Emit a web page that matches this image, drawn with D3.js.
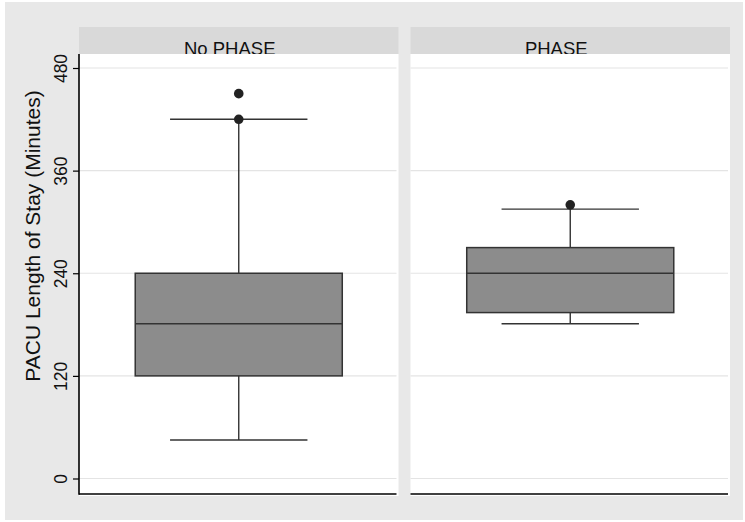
<!DOCTYPE html>
<html>
<head>
<meta charset="utf-8">
<script src="https://cdn.jsdelivr.net/npm/d3@7"></script>
<style>
  body { margin: 0; background: #fff; }
  text { font-family: "Liberation Sans", Arial, sans-serif; fill: #111; }
</style>
</head>
<body>
<svg id="chart" width="745" height="522"></svg>
<script>
// values (minutes)
var groups = ["No PHASE", "PHASE"];
var whiskerLow = [45, 181];
var q1 = [120, 194];
var median = [181, 240];
var q3 = [240, 270];
var whiskerHigh = [420, 315];
var outliers = [[420, 450], [320]];
var yTicks = [0, 120, 240, 360, 480];

var width = 745, height = 522;
var svg = d3.select("#chart");

var plotTop = 54, plotBottom = 494;

var y = d3.scaleLinear().domain([0, 480]).range([478.5, 68]);

var panel = d3.scaleBand()
    .domain(groups)
    .range([79, 730])
    .paddingInner(0.0362)
    .paddingOuter(0);

// position inside a panel, 0..1
var inner = d3.scaleLinear().domain([0, 1]).range([0, panel.bandwidth()]);
var boxW = 0.648, capW = 0.43;

// graph region
svg.append("rect")
    .attr("x", 5).attr("y", 2)
    .attr("width", width - 7).attr("height", height - 4)
    .attr("fill", "#e8e8e8");

var panels = svg.selectAll("g.panel")
    .data(groups)
    .enter().append("g")
    .attr("class", "panel")
    .attr("transform", function (d) { return "translate(" + panel(d) + ",0)"; });

// header strip
panels.append("rect")
    .attr("x", 0).attr("y", 27)
    .attr("width", panel.bandwidth()).attr("height", plotTop - 27)
    .attr("fill", "#d9d9d9");

panels.append("text")
    .attr("x", function (d, i) { return inner(0.5) + (i === 0 ? -9 : -14); })
    .attr("y", 55)
    .attr("text-anchor", "middle")
    .style("font-size", "18.5px")
    .text(function (d) { return d; });

// plot region
panels.append("rect")
    .attr("x", 0).attr("y", plotTop)
    .attr("width", panel.bandwidth()).attr("height", 496 - plotTop)
    .attr("fill", "#fff");

// gridlines
panels.selectAll("line.grid")
    .data(yTicks)
    .enter().append("line")
    .attr("x1", 0).attr("x2", panel.bandwidth() - 2)
    .attr("y1", function (d) { return y(d); })
    .attr("y2", function (d) { return y(d); })
    .attr("stroke", "#e4e4e4")
    .attr("stroke-width", 1.2);

// whiskers
panels.append("line")
    .attr("x1", inner(0.5)).attr("x2", inner(0.5))
    .attr("y1", function (d, i) { return y(whiskerLow[i]); })
    .attr("y2", function (d, i) { return y(whiskerHigh[i]); })
    .attr("stroke", "#333").attr("stroke-width", 1.4);

[whiskerLow, whiskerHigh].forEach(function (arr) {
  panels.append("line")
      .attr("x1", inner(0.5 - capW / 2)).attr("x2", inner(0.5 + capW / 2))
      .attr("y1", function (d, i) { return y(arr[i]); })
      .attr("y2", function (d, i) { return y(arr[i]); })
      .attr("stroke", "#333").attr("stroke-width", 1.4);
});

// box
panels.append("rect")
    .attr("x", inner(0.5 - boxW / 2))
    .attr("width", inner(boxW))
    .attr("y", function (d, i) { return y(q3[i]); })
    .attr("height", function (d, i) { return y(q1[i]) - y(q3[i]); })
    .attr("fill", "#8c8c8c")
    .attr("stroke", "#333").attr("stroke-width", 1.5);

panels.append("line")
    .attr("x1", inner(0.5 - boxW / 2)).attr("x2", inner(0.5 + boxW / 2))
    .attr("y1", function (d, i) { return y(median[i]); })
    .attr("y2", function (d, i) { return y(median[i]); })
    .attr("stroke", "#333").attr("stroke-width", 1.5);

// outside values
panels.each(function (d, i) {
  d3.select(this).selectAll("circle")
      .data(outliers[i])
      .enter().append("circle")
      .attr("cx", inner(0.5))
      .attr("cy", function (v) { return y(v); })
      .attr("r", 4.8)
      .attr("fill", "#222");
});

// x axis line per panel
panels.append("line")
    .attr("x1", 0).attr("x2", panel.bandwidth() - 2)
    .attr("y1", plotBottom).attr("y2", plotBottom)
    .attr("stroke", "#000").attr("stroke-width", 1.6);

// y axis on the first panel
var yAxis = d3.axisLeft(y).tickValues(yTicks).tickSize(6).tickPadding(6);
var ax = svg.append("g")
    .attr("transform", "translate(" + panel(groups[0]) + ",0)")
    .call(yAxis);
ax.select(".domain").remove();
ax.append("line")
    .attr("x1", 0).attr("x2", 0)
    .attr("y1", plotTop).attr("y2", plotBottom + 0.8)
    .attr("stroke", "#000").attr("stroke-width", 1.6);
ax.selectAll(".tick line").attr("stroke", "#000").attr("stroke-width", 1.2);
ax.selectAll(".tick text")
    .attr("x", null).attr("dy", 0)
    .attr("transform", "translate(-12,0) rotate(-90)")
    .attr("text-anchor", "middle")
    .style("font-size", "17.5px")
    .style("font-family", "Liberation Sans, Arial, sans-serif")
    .attr("fill", "#111");

svg.append("text")
    .attr("transform", "translate(40,236) rotate(-90)")
    .attr("text-anchor", "middle")
    .style("font-size", "21px")
    .text("PACU Length of Stay (Minutes)");
</script>
</body>
</html>
